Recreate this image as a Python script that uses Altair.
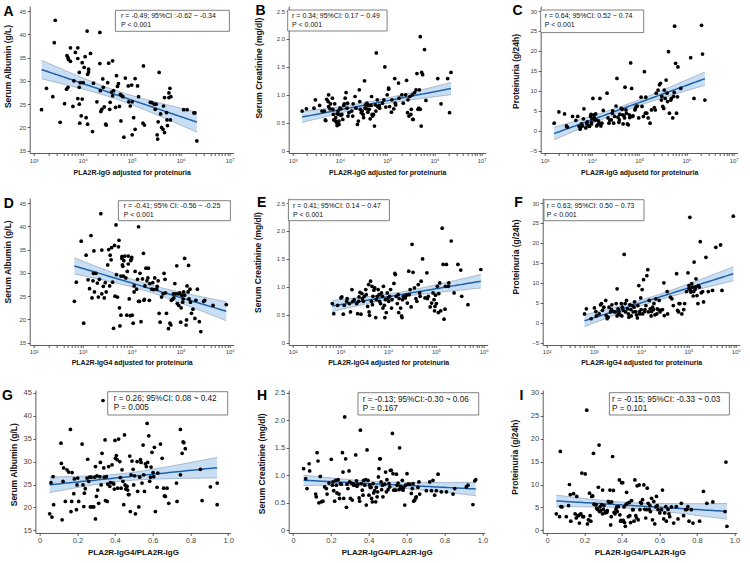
import altair as alt
import numpy as np
import pandas as pd

FONT = "Liberation Sans, Arial, DejaVu Sans"

# ---------------- data ----------------
# log-x panels: first value is log10 of the x value
A_PTS = [(3.16,23.8),(3.26,28.4),(3.44,43.0),(3.42,38.2),(3.39,26.6),(3.54,21.1),(3.63,25.1),(3.67,28.2),(3.70,28.6),(3.68,35.4),(3.70,35.0),(3.71,34.6),(3.75,37.1),(3.75,34.2),(3.80,24.5),(3.82,30.0),(3.85,36.1),(3.90,37.1),(3.90,34.8),(3.90,26.2),(3.93,25.0),(3.93,31.8),(3.93,28.6),(3.94,20.9),(3.95,29.6),(3.97,22.5),(3.99,33.9),(3.99,26.1),(4.01,29.6),(4.03,32.9),(4.05,35.2),(4.07,22.1),(4.09,40.7),(4.10,20.7),(4.10,31.4),(4.12,32.5),(4.12,31.9),(4.16,35.9),(4.20,19.1),(4.22,29.5),(4.29,25.5),(4.35,40.4),(4.35,33.7),(4.36,27.9),(4.37,23.4),(4.39,23.9),(4.41,30.4),(4.42,28.6),(4.44,24.4),(4.47,20.7),(4.48,20.5),(4.51,29.6),(4.53,33.8),(4.55,23.9),(4.56,25.4),(4.59,27.6),(4.61,34.3),(4.61,26.8),(4.63,27.9),(4.67,24.3),(4.69,31.1),(4.71,28.8),(4.73,29.4),(4.75,24.5),(4.77,27.1),(4.78,21.4),(4.80,26.8),(4.82,26.6),(4.84,17.9),(4.87,30.6),(4.93,28.9),(4.94,25.5),(4.97,24.6),(5.01,18.4),(5.00,29.1),(5.01,25.5),(5.04,22.1),(5.07,19.6),(5.07,30.5),(5.12,28.9),(5.14,26.6),(5.23,20.9),(5.24,33.2),(5.26,20.5),(5.38,25.4),(5.41,25.3),(5.46,25.0),(5.48,23.9),(5.50,25.0),(5.52,18.4),(5.53,17.5),(5.54,21.2),(5.56,31.8),(5.59,22.9),(5.61,20.0),(5.65,24.6),(5.64,19.6),(5.67,26.4),(5.67,18.9),(5.71,23.2),(5.72,21.6),(5.73,20.4),(5.76,27.4),(5.76,26.4),(5.78,28.4),(5.79,21.6),(5.80,26.6),(6.06,23.8),(6.13,23.8),(6.27,23.1),(6.29,23.1),(6.33,17.1)]

B_PTS = [(3.20,0.71),(3.29,0.75),(3.45,0.76),(3.48,0.91),(3.57,0.81),(3.62,0.71),(3.67,0.71),(3.69,0.55),(3.70,0.54),(3.72,0.92),(3.75,0.88),(3.76,0.79),(3.76,1.00),(3.79,0.75),(3.80,0.84),(3.84,0.94),(3.85,0.74),(3.86,0.65),(3.87,0.55),(3.89,0.84),(3.91,0.59),(3.91,0.53),(3.93,0.50),(3.94,0.45),(3.94,0.66),(3.96,0.71),(3.98,0.65),(3.98,0.53),(3.98,0.47),(4.00,0.76),(4.02,0.75),(4.02,0.63),(4.04,0.65),(4.06,0.56),(4.08,0.81),(4.09,0.84),(4.11,0.94),(4.13,1.04),(4.15,0.76),(4.16,0.85),(4.17,0.62),(4.19,0.68),(4.25,0.71),(4.27,0.62),(4.28,0.84),(4.32,0.97),(4.34,0.76),(4.37,0.47),(4.39,0.53),(4.41,1.09),(4.42,0.88),(4.43,0.74),(4.45,0.68),(4.47,0.71),(4.49,0.65),(4.50,0.59),(4.52,1.25),(4.53,0.76),(4.54,0.82),(4.56,0.75),(4.57,0.85),(4.59,0.69),(4.60,0.81),(4.62,0.74),(4.64,0.57),(4.66,0.81),(4.67,0.97),(4.68,0.65),(4.69,0.62),(4.71,0.65),(4.73,0.44),(4.75,0.82),(4.76,0.71),(4.77,1.75),(4.79,0.91),(4.80,0.79),(4.82,0.78),(4.83,0.81),(4.84,0.76),(4.90,0.85),(4.93,0.91),(4.95,1.50),(4.97,0.78),(5.00,1.00),(5.03,1.12),(5.03,1.10),(5.05,0.79),(5.09,0.69),(5.10,0.91),(5.14,0.75),(5.16,1.29),(5.17,0.85),(5.18,0.82),(5.24,1.21),(5.25,0.94),(5.31,1.00),(5.34,0.85),(5.39,1.00),(5.41,1.26),(5.43,0.68),(5.44,0.91),(5.46,0.62),(5.48,0.97),(5.50,0.65),(5.51,0.74),(5.53,1.00),(5.54,0.56),(5.55,0.56),(5.58,1.04),(5.61,1.09),(5.63,1.38),(5.65,0.74),(5.67,0.76),(5.68,1.09),(5.70,2.04),(5.70,0.74),(5.72,0.44),(5.73,1.40),(5.75,1.36),(5.79,1.81),(5.82,0.90),(6.07,1.29),(6.14,0.84),(6.28,1.29),(6.32,0.68),(6.35,1.40)]

C_PTS = [(3.20,1.9),(3.30,4.7),(3.42,4.2),(3.46,1.2),(3.48,0.9),(3.59,3.6),(3.66,2.6),(3.70,3.6),(3.73,1.1),(3.75,0.4),(3.76,0.8),(3.78,1.7),(3.80,1.2),(3.82,3.0),(3.83,5.5),(3.87,0.7),(3.89,1.7),(3.90,2.2),(3.93,1.2),(3.95,1.1),(3.97,3.6),(3.98,4.1),(3.99,2.1),(3.99,1.7),(4.00,3.0),(4.02,8.1),(4.04,4.0),(4.05,3.3),(4.06,2.7),(4.08,4.2),(4.09,2.7),(4.10,1.2),(4.12,1.5),(4.14,2.5),(4.15,1.9),(4.17,8.1),(4.19,1.2),(4.21,1.9),(4.24,5.1),(4.32,9.4),(4.34,3.2),(4.36,1.9),(4.38,2.6),(4.41,2.7),(4.43,4.4),(4.44,5.0),(4.46,1.9),(4.48,3.6),(4.51,6.2),(4.53,13.1),(4.55,3.4),(4.57,2.1),(4.58,2.7),(4.59,4.1),(4.62,5.6),(4.64,5.4),(4.65,4.0),(4.66,1.7),(4.68,3.7),(4.69,3.2),(4.70,10.9),(4.72,5.2),(4.73,4.4),(4.75,1.7),(4.77,1.5),(4.79,4.0),(4.80,3.3),(4.82,17.0),(4.84,10.6),(4.85,3.6),(4.87,3.7),(4.91,5.2),(4.92,5.6),(4.94,6.1),(4.96,6.2),(4.99,3.2),(5.04,8.4),(5.06,6.1),(5.09,3.6),(5.11,14.8),(5.13,4.4),(5.14,8.4),(5.16,4.4),(5.19,3.2),(5.23,1.9),(5.26,5.2),(5.32,5.8),(5.34,5.2),(5.36,9.4),(5.40,10.2),(5.43,11.5),(5.45,11.9),(5.47,7.7),(5.48,8.6),(5.50,6.1),(5.52,5.6),(5.53,10.2),(5.55,8.1),(5.57,12.7),(5.59,9.4),(5.60,7.3),(5.62,19.8),(5.64,4.4),(5.67,7.7),(5.68,8.1),(5.71,3.2),(5.73,8.6),(5.74,9.6),(5.75,26.2),(5.77,16.9),(5.79,4.4),(5.81,8.5),(5.82,16.0),(5.88,10.6),(6.09,18.3),(6.16,8.1),(6.32,26.4),(6.34,19.2),(6.39,7.7)]

D_PTS = [(2.83,23.9),(2.87,28.0),(2.97,36.8),(3.02,19.2),(3.07,33.8),(3.11,28.5),(3.14,26.6),(3.17,38.0),(3.19,24.6),(3.21,28.3),(3.22,29.9),(3.23,34.7),(3.24,25.9),(3.27,29.9),(3.30,27.8),(3.32,24.8),(3.34,28.6),(3.37,42.7),(3.39,25.5),(3.39,34.9),(3.42,27.1),(3.44,24.6),(3.46,27.9),(3.48,25.9),(3.51,31.7),(3.53,35.0),(3.55,27.2),(3.56,33.8),(3.58,32.8),(3.59,35.4),(3.61,28.0),(3.63,18.1),(3.65,35.9),(3.66,25.0),(3.68,40.3),(3.69,29.6),(3.71,24.8),(3.73,35.6),(3.74,37.0),(3.75,22.5),(3.76,18.6),(3.78,29.3),(3.78,20.9),(3.80,33.1),(3.80,33.5),(3.81,31.7),(3.82,31.4),(3.83,29.3),(3.84,32.6),(3.86,33.6),(3.88,28.9),(3.90,20.9),(3.91,30.3),(3.93,33.6),(3.93,31.9),(3.95,24.4),(3.97,20.8),(3.98,32.6),(3.99,32.9),(4.00,33.3),(4.01,20.9),(4.03,19.2),(4.05,27.2),(4.05,25.9),(4.07,30.3),(4.10,26.5),(4.12,28.6),(4.14,39.9),(4.14,23.9),(4.16,23.9),(4.17,29.9),(4.19,19.5),(4.22,28.7),(4.24,34.2),(4.25,24.1),(4.26,24.3),(4.27,27.2),(4.29,31.0),(4.31,28.3),(4.33,28.9),(4.34,31.0),(4.36,24.1),(4.37,27.7),(4.41,26.5),(4.43,27.9),(4.45,26.4),(4.47,28.9),(4.51,26.5),(4.52,27.1),(4.54,28.3),(4.56,21.3),(4.58,19.4),(4.61,24.8),(4.64,25.5),(4.66,29.9),(4.68,28.6),(4.69,25.7),(4.71,21.3),(4.75,18.0),(4.78,19.2),(4.80,18.8),(4.81,24.1),(4.83,24.3),(4.85,25.5),(4.86,24.6),(4.88,27.7),(4.90,25.5),(4.92,31.5),(4.93,23.4),(4.95,25.5),(4.96,23.0),(4.98,25.7),(5.00,19.4),(5.01,22.5),(5.02,25.2),(5.04,23.7),(5.05,24.4),(5.06,25.9),(5.08,25.2),(5.08,33.1),(5.11,18.8),(5.12,19.9),(5.13,27.2),(5.15,25.9),(5.16,31.6),(5.17,24.4),(5.19,26.5),(5.20,23.7),(5.22,21.3),(5.25,22.2),(5.29,20.2),(5.31,24.1),(5.34,26.5),(5.38,19.5),(5.41,17.4),(5.47,23.9),(5.49,24.1),(5.66,23.0),(5.93,23.2)]

E_PTS = [(2.83,0.70),(2.86,0.52),(2.94,0.67),(3.01,0.80),(3.03,0.82),(3.06,0.51),(3.08,0.67),(3.13,0.74),(3.14,0.79),(3.19,0.70),(3.21,0.55),(3.24,0.95),(3.26,0.74),(3.29,0.77),(3.34,0.70),(3.36,0.52),(3.38,0.74),(3.39,0.82),(3.41,0.90),(3.43,0.51),(3.45,0.88),(3.46,0.79),(3.48,0.74),(3.50,0.83),(3.53,0.95),(3.54,0.86),(3.57,0.65),(3.59,1.04),(3.60,0.55),(3.61,0.49),(3.63,1.10),(3.65,0.74),(3.66,1.01),(3.67,0.68),(3.68,0.83),(3.70,0.94),(3.72,0.98),(3.74,0.45),(3.75,0.77),(3.77,0.83),(3.79,0.95),(3.81,0.86),(3.82,0.74),(3.84,0.70),(3.86,0.89),(3.88,0.83),(3.89,0.62),(3.90,1.01),(3.92,0.67),(3.93,0.45),(3.94,0.77),(3.96,0.54),(3.98,0.89),(4.00,0.80),(4.01,0.74),(4.03,0.83),(4.05,0.95),(4.07,0.62),(4.08,0.77),(4.12,1.06),(4.14,1.24),(4.15,1.22),(4.17,0.83),(4.19,0.70),(4.21,0.86),(4.22,0.54),(4.23,0.79),(4.26,0.62),(4.28,0.48),(4.29,0.45),(4.30,0.77),(4.32,0.83),(4.34,0.83),(4.36,0.80),(4.38,0.85),(4.40,0.71),(4.43,1.28),(4.44,0.86),(4.46,0.95),(4.48,0.64),(4.50,1.76),(4.52,1.26),(4.55,0.98),(4.58,0.79),(4.60,0.74),(4.63,1.04),(4.66,0.89),(4.67,0.83),(4.69,1.10),(4.72,1.50),(4.77,0.80),(4.81,1.25),(4.82,0.79),(4.84,0.83),(4.88,0.64),(4.91,0.71),(4.94,0.89),(4.96,0.77),(4.97,0.57),(4.98,0.65),(4.99,0.85),(5.01,0.70),(5.03,1.01),(5.05,0.54),(5.06,0.88),(5.08,1.07),(5.10,0.57),(5.13,2.05),(5.15,1.40),(5.17,0.42),(5.19,0.60),(5.20,1.01),(5.22,1.40),(5.26,1.01),(5.27,1.07),(5.32,1.82),(5.38,0.89),(5.46,1.40),(5.52,1.30),(5.54,0.83),(5.67,0.68),(5.94,1.31)]

F_PTS = [(2.80,2.2),(2.84,3.5),(2.94,1.0),(3.01,3.7),(3.04,2.8),(3.05,1.7),(3.11,2.2),(3.14,4.5),(3.16,4.8),(3.18,3.1),(3.21,3.9),(3.25,5.6),(3.26,1.8),(3.28,1.0),(3.30,1.4),(3.32,3.9),(3.35,2.7),(3.37,3.3),(3.38,4.5),(3.42,2.8),(3.45,2.7),(3.47,4.8),(3.49,1.7),(3.49,8.5),(3.51,3.5),(3.52,2.2),(3.53,2.8),(3.55,2.0),(3.58,4.8),(3.59,1.7),(3.60,3.9),(3.62,3.1),(3.64,17.1),(3.66,4.8),(3.67,2.7),(3.69,5.6),(3.71,3.5),(3.73,2.2),(3.74,1.4),(3.76,4.5),(3.78,3.3),(3.79,1.7),(3.81,4.3),(3.83,2.7),(3.85,3.9),(3.86,5.2),(3.88,2.8),(3.90,2.0),(3.92,1.2),(3.93,4.3),(3.95,9.3),(3.96,2.7),(3.97,2.2),(3.99,6.2),(4.00,3.3),(4.02,8.3),(4.03,2.2),(4.05,10.8),(4.07,2.8),(4.08,3.3),(4.10,4.3),(4.12,11.8),(4.14,13.3),(4.15,2.7),(4.17,5.6),(4.19,3.5),(4.21,1.7),(4.22,2.8),(4.24,3.9),(4.26,3.3),(4.27,4.8),(4.29,2.0),(4.31,6.0),(4.33,2.2),(4.34,3.5),(4.36,3.3),(4.38,5.6),(4.40,2.7),(4.41,3.1),(4.45,3.3),(4.48,10.0),(4.49,1.8),(4.55,7.8),(4.56,2.2),(4.62,6.4),(4.65,6.0),(4.68,4.3),(4.75,12.3),(4.77,3.1),(4.79,2.7),(4.80,4.8),(4.82,4.8),(4.86,2.2),(4.90,3.3),(4.92,4.8),(4.96,7.8),(4.99,12.5),(5.01,9.3),(5.01,8.5),(5.03,26.4),(5.04,8.3),(5.05,7.7),(5.07,9.8),(5.08,8.9),(5.10,6.7),(5.11,7.8),(5.12,15.2),(5.14,8.3),(5.15,8.9),(5.16,11.0),(5.18,6.8),(5.20,4.8),(5.21,9.3),(5.23,8.9),(5.25,20.3),(5.27,7.5),(5.30,7.8),(5.32,5.2),(5.37,16.4),(5.42,7.8),(5.51,8.1),(5.58,18.9),(5.68,19.5),(5.71,8.1),(5.95,26.7)]

# linear-x panels: ratio PLA2R-IgG4 / PLA2R-IgG
G_PTS = [(0.053,18.6),(0.060,25.4),(0.065,17.9),(0.071,26.7),(0.074,20.6),(0.113,34.0),(0.115,29.6),(0.119,17.3),(0.124,25.7),(0.127,28.6),(0.136,21.3),(0.145,28.2),(0.154,27.7),(0.163,37.0),(0.166,19.1),(0.170,21.3),(0.172,27.6),(0.181,23.0),(0.184,26.2),(0.195,19.5),(0.198,24.9),(0.202,26.4),(0.207,21.3),(0.225,33.8),(0.230,24.9),(0.234,20.2),(0.237,23.1),(0.242,24.1),(0.251,26.4),(0.255,30.5),(0.260,25.7),(0.265,26.6),(0.269,20.1),(0.273,26.6),(0.278,20.1),(0.287,20.1),(0.292,26.6),(0.296,28.9),(0.296,17.5),(0.301,22.4),(0.304,26.9),(0.308,23.8),(0.313,20.9),(0.319,26.7),(0.322,29.8),(0.326,24.9),(0.331,31.8),(0.336,43.3),(0.340,28.6),(0.343,26.6),(0.347,34.7),(0.349,21.5),(0.354,26.7),(0.358,21.3),(0.361,25.1),(0.366,28.9),(0.372,24.6),(0.375,25.4),(0.384,29.3),(0.389,25.3),(0.393,25.1),(0.396,24.0),(0.400,34.6),(0.402,30.7),(0.407,31.3),(0.411,30.4),(0.414,24.2),(0.419,34.9),(0.425,30.0),(0.428,26.5),(0.432,24.2),(0.437,28.2),(0.442,25.7),(0.446,20.6),(0.450,35.8),(0.453,24.9),(0.457,24.0),(0.460,24.6),(0.464,24.6),(0.467,23.8),(0.471,22.8),(0.474,22.8),(0.478,31.2),(0.481,19.1),(0.485,27.1),(0.490,30.1),(0.496,28.3),(0.499,24.9),(0.503,26.9),(0.508,18.6),(0.517,30.0),(0.520,23.5),(0.526,20.1),(0.531,26.6),(0.535,30.4),(0.538,29.8),(0.543,25.3),(0.549,33.6),(0.552,27.1),(0.556,23.5),(0.561,29.5),(0.566,28.9),(0.570,38.3),(0.573,29.8),(0.579,35.6),(0.584,25.7),(0.588,26.6),(0.591,28.8),(0.596,32.0),(0.602,27.6),(0.605,26.7),(0.609,33.1),(0.614,19.1),(0.623,24.4),(0.627,27.5),(0.641,33.8),(0.650,30.7),(0.658,24.2),(0.662,22.5),(0.667,22.4),(0.676,24.2),(0.685,20.9),(0.726,25.3),(0.729,21.3),(0.747,27.1),(0.747,37.0),(0.756,31.8),(0.761,34.3),(0.765,34.1),(0.773,32.8),(0.853,28.3),(0.862,21.5),(0.906,24.5),(0.942,25.3),(0.942,20.6)]

H_PTS = [(0.056,1.12),(0.067,0.94),(0.074,0.76),(0.085,1.21),(0.088,1.08),(0.120,0.66),(0.123,0.61),(0.127,1.41),(0.132,1.26),(0.137,0.50),(0.144,0.98),(0.150,0.52),(0.158,0.53),(0.167,0.79),(0.176,0.76),(0.180,0.66),(0.190,0.86),(0.202,1.29),(0.208,0.82),(0.211,0.88),(0.215,0.72),(0.220,0.53),(0.225,0.91),(0.229,0.82),(0.232,0.68),(0.238,0.92),(0.243,0.66),(0.246,0.58),(0.250,0.85),(0.255,0.84),(0.261,1.41),(0.264,1.06),(0.268,0.58),(0.273,2.06),(0.278,1.30),(0.282,0.42),(0.285,0.84),(0.290,0.76),(0.296,1.08),(0.299,0.88),(0.303,0.58),(0.308,0.86),(0.313,0.55),(0.317,0.85),(0.320,0.82),(0.326,0.82),(0.331,1.37),(0.335,0.90),(0.338,0.80),(0.343,0.84),(0.349,0.59),(0.352,0.53),(0.356,1.82),(0.361,0.85),(0.366,0.73),(0.370,0.64),(0.373,0.91),(0.379,0.82),(0.384,0.92),(0.387,0.46),(0.391,1.46),(0.396,0.91),(0.401,0.64),(0.405,0.82),(0.408,0.78),(0.412,0.78),(0.415,0.58),(0.419,0.52),(0.423,0.85),(0.426,0.68),(0.431,0.72),(0.437,0.52),(0.440,0.78),(0.444,0.61),(0.447,0.70),(0.451,0.97),(0.454,1.12),(0.458,1.30),(0.461,1.30),(0.465,0.88),(0.468,0.74),(0.472,0.82),(0.475,0.61),(0.484,0.84),(0.489,1.06),(0.493,0.70),(0.496,0.92),(0.502,0.74),(0.507,0.85),(0.511,0.79),(0.514,1.09),(0.519,1.09),(0.525,1.76),(0.528,1.03),(0.532,0.73),(0.537,0.73),(0.542,0.73),(0.546,1.02),(0.549,0.82),(0.555,0.86),(0.560,0.74),(0.563,1.50),(0.567,0.80),(0.572,0.76),(0.577,0.91),(0.581,0.73),(0.585,0.78),(0.590,0.46),(0.595,0.82),(0.602,1.03),(0.607,0.84),(0.616,0.84),(0.625,0.67),(0.630,0.76),(0.634,0.85),(0.637,0.53),(0.643,0.55),(0.648,0.59),(0.651,0.61),(0.660,0.78),(0.665,0.88),(0.669,0.66),(0.704,0.72),(0.722,0.88),(0.731,0.72),(0.739,0.91),(0.748,0.64),(0.757,0.72),(0.766,1.02),(0.783,0.70),(0.810,0.70),(0.845,0.66),(0.854,0.76),(0.915,0.79),(0.924,0.82),(0.950,0.47),(0.960,0.90),(0.965,0.92)]

I_PTS = [(0.050,3.6),(0.067,3.0),(0.071,17.2),(0.074,5.2),(0.080,5.1),(0.103,3.0),(0.115,5.4),(0.120,10.0),(0.124,7.8),(0.127,2.0),(0.142,8.0),(0.150,3.6),(0.156,2.7),(0.159,7.4),(0.163,3.2),(0.168,3.2),(0.173,1.6),(0.177,3.5),(0.181,3.6),(0.186,12.5),(0.191,3.0),(0.195,3.0),(0.204,12.3),(0.212,26.2),(0.216,1.4),(0.221,2.3),(0.227,8.1),(0.230,3.2),(0.234,2.0),(0.239,7.4),(0.244,7.5),(0.248,16.8),(0.251,5.7),(0.257,5.6),(0.262,5.6),(0.265,4.8),(0.269,4.6),(0.274,9.4),(0.278,18.6),(0.280,4.1),(0.283,5.1),(0.287,4.3),(0.292,5.6),(0.296,3.6),(0.297,8.8),(0.301,4.6),(0.304,5.4),(0.310,3.8),(0.315,4.1),(0.319,3.9),(0.322,4.3),(0.327,6.3),(0.333,6.1),(0.336,8.8),(0.340,1.2),(0.343,3.0),(0.345,6.2),(0.350,16.1),(0.354,8.7),(0.358,3.9),(0.363,3.6),(0.368,4.6),(0.372,5.1),(0.375,4.1),(0.381,5.2),(0.386,11.0),(0.389,3.4),(0.393,2.0),(0.395,2.2),(0.398,10.4),(0.402,2.0),(0.404,10.4),(0.407,2.2),(0.411,5.1),(0.414,1.7),(0.418,0.9),(0.421,5.6),(0.425,8.3),(0.428,5.9),(0.434,3.0),(0.439,6.1),(0.442,3.2),(0.446,1.7),(0.451,6.5),(0.457,4.5),(0.460,4.5),(0.464,2.0),(0.469,11.0),(0.474,3.2),(0.478,2.7),(0.481,9.7),(0.487,2.3),(0.492,9.9),(0.496,4.5),(0.499,6.1),(0.504,5.9),(0.510,6.7),(0.517,9.9),(0.522,4.6),(0.527,2.7),(0.531,4.5),(0.535,9.2),(0.540,5.9),(0.545,4.6),(0.549,5.4),(0.552,4.1),(0.558,7.0),(0.563,2.3),(0.570,6.3),(0.575,1.4),(0.581,5.1),(0.584,7.4),(0.588,5.4),(0.593,4.5),(0.602,3.8),(0.611,4.5),(0.616,8.8),(0.623,2.5),(0.628,3.8),(0.634,5.2),(0.637,2.0),(0.646,4.6),(0.651,3.6),(0.655,3.0),(0.664,5.1),(0.676,1.6),(0.690,5.2),(0.699,2.5),(0.717,5.9),(0.729,3.2),(0.740,4.5),(0.747,4.6),(0.752,5.2),(0.758,2.0),(0.770,4.5),(0.779,1.6),(0.814,2.0),(0.835,8.5),(0.853,5.9),(0.885,6.2),(0.950,4.1),(0.955,14.9),(0.960,0.9)]

# axis ticks
ALB_TICKS = [15, 20, 25, 30, 35, 40, 45]
CRE_TICKS = [0, 0.5, 1.0, 1.5, 2.0, 2.5]
PRO_TICKS = [-5, 0, 5, 10, 15, 20, 25, 30]
PRO_TICKS_I = [0, 5, 10, 15, 20, 25, 30]
IGG_EXP = [3, 4, 5, 6, 7]
IGG4_EXP = [2, 3, 4, 5, 6]
RATIO_TICKS = [0, 0.2, 0.4, 0.6, 0.8, 1.0]

Y_ALB = "Serum Albumin (g/L)"
Y_CRE = "Serum Creatinine (mg/dl)"
Y_PRO = "Proteinuria (g/24h)"

STATS = {
    "A": ["r = -0.49; 95%CI :-0.62 ~ -0.34", "P < 0.001"],
    "B": ["r = 0.34; 95%CI: 0.17 ~ 0.49", "P < 0.001"],
    "C": ["r = 0.64; 95%CI: 0.52 ~ 0.74", "P < 0.001"],
    "D": ["r = -0.41; 95% CI: -0.56 ~ -0.25", "P < 0.001"],
    "E": ["r = 0.41; 95%CI: 0.14 ~ 0.47", "P < 0.001"],
    "F": ["r = 0.63; 95%CI: 0.50 ~ 0.73", "P < 0.001"],
    "G": ["r = 0.26; 95%CI: 0.08 ~ 0.42", "P = 0.005"],
    "H": ["r = -0.13; 95%CI:-0.30 ~ 0.06", "P = 0.167"],
    "I": ["r = -0.15; 95%CI: -0.33 ~ 0.03", "P = 0.101"],
}

# ---------------- styling / layout ----------------
ROW_STYLE = {
    0: dict(widths=[204, 197, 197], H=147, spacing=55, tick_fs=6, xt_fs=7, yt_fs=8.5,
            stat_fs=7, pad_x=(4, 4), pad_y=(2.3, 5), xtitle_y=19.3),
    1: dict(widths=[204, 199, 197], H=147, spacing=55, tick_fs=6, xt_fs=7, yt_fs=8.5,
            stat_fs=7, pad_x=(4, 4), pad_y=(2.3, 5), xtitle_y=17.6),
    2: dict(widths=[195, 196, 194], H=143, spacing=58, tick_fs=7.5, xt_fs=8, yt_fs=8.5,
            stat_fs=8.2, pad_x=(4.3, 2.3), pad_y=(2.6, 2.7), xtitle_y=19.3),
}
# horizontal inset of a panel's plot area inside its cell (row 3 sits further right)
SHIFT = {"G": 5.7}

# geometry relative to plot area (letter x/baseline, box, text x, line ys, y-title distance/center)
GEO = {
    "A": dict(lx=-26.3, ly=10.3, box=(85.7, 199.7, 4.3, 25.3), tx=91.4, l1=9.8, l2=18.8, td=22, ty=60),
    "B": dict(lx=-33.3, ly=9.3, box=(-1, 98.4, 4, 25), tx=3.4, l1=9.5, l2=18.5, td=30, ty=61.6),
    "C": dict(lx=-28.3, ly=9.3, box=(0, 103, 4, 26.6), tx=4, l1=9.8, l2=18.8, td=25, ty=65),
    "D": dict(lx=-26, ly=10, box=(88.7, 200.7, 2.7, 22.7), tx=94, l1=8.4, l2=17.4, td=22, ty=63.4),
    "E": dict(lx=-31.6, ly=9.4, box=(-0.3, 100.7, 1.7, 22.7), tx=4.4, l1=8.4, l2=17.4, td=31, ty=64),
    "F": dict(lx=-28.4, ly=9.4, box=(1.3, 101.3, 1.7, 22.7), tx=4, l1=8.4, l2=17.4, td=26.7, ty=58.4),
    "G": dict(lx=-33.3, ly=10, box=(72.3, 192.3, 1.7, 25), tx=78.3, l1=8.8, l2=18, td=21.7, ty=74.2),
    "H": dict(lx=-31.7, ly=10, box=(69.3, 190, 2.7, 25), tx=74, l1=9.6, l2=18.6, td=26.7, ty=73.3),
    "I": dict(lx=-23.3, ly=10, box=(66.7, 186.7, 2.7, 25), tx=69.4, l1=9.6, l2=18.6, td=28.3, ty=66.7),
}

PANELS = [
    dict(key="A", pts=A_PTS, logx=True, xexp=IGG_EXP, yt=ALB_TICKS, ytitle=Y_ALB,
         xtitle="PLA2R-IgG adjusted for proteinuria", row=0, col=0),
    dict(key="B", pts=B_PTS, logx=True, xexp=IGG_EXP, yt=CRE_TICKS, ytitle=Y_CRE,
         xtitle="PLA2R-IgG adjusted for proteinuria", row=0, col=1),
    dict(key="C", pts=C_PTS, logx=True, xexp=IGG_EXP, yt=PRO_TICKS, ytitle=Y_PRO,
         xtitle="PLA2R-IgG adjusetd for proteinuria", row=0, col=2),
    dict(key="D", pts=D_PTS, logx=True, xexp=IGG4_EXP, yt=ALB_TICKS, ytitle=Y_ALB,
         xtitle="PLA2R-IgG4 adjusted for proteinuria", row=1, col=0),
    dict(key="E", pts=E_PTS, logx=True, xexp=IGG4_EXP, yt=CRE_TICKS, ytitle=Y_CRE,
         xtitle="PLA2R-IgG4 adjusted for proteinuria", row=1, col=1),
    dict(key="F", pts=F_PTS, logx=True, xexp=IGG4_EXP, yt=PRO_TICKS, ytitle=Y_PRO,
         xtitle="PLA2R-IgG4 adjusted for proteinuria", row=1, col=2),
    dict(key="G", pts=G_PTS, logx=False, xexp=None, yt=ALB_TICKS, ytitle=Y_ALB,
         xtitle="PLA2R-IgG4/PLA2R-IgG", row=2, col=0),
    dict(key="H", pts=H_PTS, logx=False, xexp=None, yt=CRE_TICKS, ytitle=Y_CRE,
         xtitle="PLA2R-IgG4/PLA2R-IgG", row=2, col=1),
    dict(key="I", pts=I_PTS, logx=False, xexp=None, yt=PRO_TICKS_I, ytitle=Y_PRO,
         xtitle="PLA2R-IgG4/PLA2R-IgG", row=2, col=2),
]

SUP = {0: "\u2070", 1: "\u00b9", 2: "\u00b2", 3: "\u00b3", 4: "\u2074",
       5: "\u2075", 6: "\u2076", 7: "\u2077", 8: "\u2078", 9: "\u2079"}

BAND_FILL = "#c8def4"
BAND_EDGE = "#8fa2b8"
LINE_COL = "#1f62a8"
AX_COL = "#333333"
LAB_COL = "#444444"


def fit_band(t, y):
    n = len(t)
    tm = t.mean()
    sxx = ((t - tm) ** 2).sum()
    b1 = ((t - tm) * (y - y.mean())).sum() / sxx
    b0 = y.mean() - b1 * tm
    s = np.sqrt(((y - b0 - b1 * t) ** 2).sum() / (n - 2))
    g = np.linspace(t.min(), t.max(), 60)
    f = b0 + b1 * g
    se = s * np.sqrt(1.0 / n + (g - tm) ** 2 / sxx)
    tc = 1.98
    return g, f, f - tc * se, f + tc * se


def make_panel(p):
    rs = ROW_STYLE[p["row"]]
    geo = GEO[p["key"]]
    sh = SHIFT.get(p["key"], 0)
    W = rs["widths"][p["col"]]
    H = rs["H"]
    arr = np.array(p["pts"], dtype=float)
    t = arr[:, 0]
    yv = arr[:, 1]
    g, f, lo, hi = fit_band(t, yv)

    pl, pr = rs["pad_x"]
    if p["logx"]:
        e0, e1 = p["xexp"][0], p["xexp"][-1]
        ppu = (W - pl - pr) / (e1 - e0)
        xdom = [10 ** (e0 - pl / ppu), 10 ** (e1 + pr / ppu)]
        xvals = [m * 10 ** e for e in range(e0, e1) for m in range(1, 10)] + [10 ** e1]
        expr = "''"
        for e in reversed(p["xexp"]):
            expr = f"datum.value == {10 ** e} ? '10{SUP[e]}' : " + expr
        xscale = alt.Scale(type="log", domain=xdom, nice=False, range=[sh, W + sh])
        xpts = 10 ** t
        xg = 10 ** g
    else:
        x0, x1 = RATIO_TICKS[0], RATIO_TICKS[-1]
        ppu = (W - pl - pr) / (x1 - x0)
        xdom = [x0 - pl / ppu, x1 + pr / ppu]
        xvals = RATIO_TICKS
        expr = "datum.value == 0 ? '0' : format(datum.value, '.1f')"
        xscale = alt.Scale(type="linear", domain=xdom, nice=False, zero=False,
                           range=[sh, W + sh])
        xpts = t
        xg = g

    yt = p["yt"]
    pb, ptop = rs["pad_y"]
    k = (H - pb - ptop) / (yt[-1] - yt[0])
    ydom = [yt[0] - pb / k, yt[-1] + ptop / k]
    yscale = alt.Scale(domain=ydom, nice=False, zero=False)
    if p["yt"] is CRE_TICKS:
        yexpr = "datum.value == 0 ? '0' : format(datum.value, '.1f')"
    else:
        yexpr = "format(datum.value, 'd')"

    common = dict(grid=False, domainColor=AX_COL, tickColor=AX_COL, domainWidth=0.8,
                  tickWidth=0.8, tickSize=2.5, labelColor=LAB_COL, labelFont=FONT,
                  titleFont=FONT, titleFontWeight="bold", titleColor="#111111",
                  labelOverlap=False, labelPadding=1.5, titleBaseline="middle",
                  minExtent=0)
    xax = alt.Axis(values=xvals, labelExpr=expr, title=p["xtitle"],
                   titleFontSize=rs["xt_fs"], labelFontSize=rs["tick_fs"],
                   titleY=rs["xtitle_y"], labelFlush=False, **common)
    ykw = dict(common)
    if sh:
        ykw["offset"] = -sh
    yax = alt.Axis(values=yt, labelExpr=yexpr, title=p["ytitle"],
                   titleFontSize=rs["yt_fs"], labelFontSize=rs["tick_fs"],
                   titleX=-geo["td"], titleY=geo["ty"], **ykw)

    pts_df = pd.DataFrame({"x": xpts, "y": yv})
    band_df = pd.DataFrame({"x": xg, "fit": f, "lo": lo, "hi": hi})
    one = pd.DataFrame({"k": [0]})

    X = alt.X("x:Q", scale=xscale, axis=xax)
    band = alt.Chart(band_df).mark_area(color=BAND_FILL, opacity=1).encode(
        x=X, y=alt.Y("lo:Q", scale=yscale, axis=yax), y2="hi:Q")
    edge_lo = alt.Chart(band_df).mark_line(color=BAND_EDGE, strokeWidth=0.7).encode(
        x=X, y=alt.Y("lo:Q", scale=yscale, axis=yax))
    edge_hi = alt.Chart(band_df).mark_line(color=BAND_EDGE, strokeWidth=0.7).encode(
        x=X, y=alt.Y("hi:Q", scale=yscale, axis=yax))
    fitline = alt.Chart(band_df).mark_line(color=LINE_COL, strokeWidth=1.5).encode(
        x=X, y=alt.Y("fit:Q", scale=yscale, axis=yax))
    points = alt.Chart(pts_df).mark_circle(color="black", size=14, opacity=1).encode(
        x=X, y=alt.Y("y:Q", scale=yscale, axis=yax))

    bx0, bx1, by0, by1 = geo["box"]
    box = alt.Chart(one).mark_rect(fill="white", stroke="#808080", strokeWidth=1).encode(
        x=alt.value(bx0 + sh), x2=alt.value(bx1 + sh), y=alt.value(by0), y2=alt.value(by1))
    s1, s2 = STATS[p["key"]]
    txt1 = alt.Chart(one).mark_text(text=s1, align="left", baseline="middle", font=FONT,
                                    fontSize=rs["stat_fs"], color="#111111").encode(
        x=alt.value(geo["tx"] + sh), y=alt.value(geo["l1"]))
    txt2 = alt.Chart(one).mark_text(text=s2, align="left", baseline="middle", font=FONT,
                                    fontSize=rs["stat_fs"], color="#111111").encode(
        x=alt.value(geo["tx"] + sh), y=alt.value(geo["l2"]))
    letter = alt.Chart(one).mark_text(text=p["key"], align="left", baseline="alphabetic",
                                      font=FONT, fontSize=14, fontWeight="bold",
                                      color="black").encode(
        x=alt.value(geo["lx"] + sh), y=alt.value(geo["ly"]))

    layers = [band, edge_lo, edge_hi, fitline, points, box, txt1, txt2, letter]
    return alt.layer(*layers).properties(width=W + sh, height=H)


charts = [make_panel(p) for p in PANELS]
rows = []
for r in range(3):
    rs = ROW_STYLE[r]
    rows.append(alt.hconcat(*charts[3 * r:3 * r + 3], spacing=rs["spacing"], bounds="flush"))

top = alt.vconcat(rows[0], rows[1], spacing=20)
chart = alt.vconcat(top, rows[2], spacing=22).properties(
    padding={"left": 1.7, "top": 4, "right": 0, "bottom": 0},
    background="white",
).configure_view(stroke=None)

chart.save("out.html", embed_options={"renderer": "svg", "actions": False})
